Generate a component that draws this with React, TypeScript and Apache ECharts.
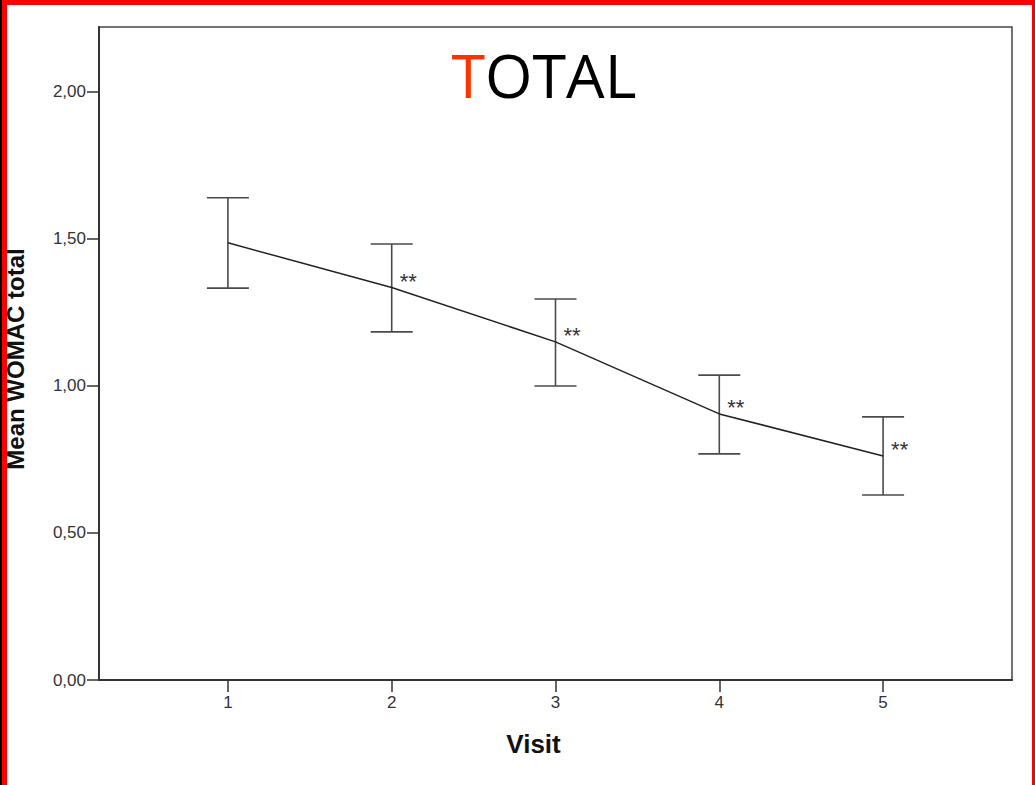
import React, { useEffect, useRef } from "react";
import * as echarts from "echarts";

const visits = [1, 2, 3, 4, 5];
const means = [1.487, 1.335, 1.15, 0.905, 0.762];
const upper = [1.64, 1.483, 1.296, 1.037, 0.895];
const lower = [1.333, 1.184, 1.0, 0.769, 0.629];
const sigMarks = ["", "**", "**", "**", "**"];
const yTicks = [0, 0.5, 1, 1.5, 2];

export default function App() {
  const ref = useRef<HTMLDivElement>(null);
  useEffect(() => {
    if (!ref.current) return;
    const chart = echarts.init(ref.current, null, { renderer: "svg" });
    const font = "'Liberation Sans', Arial, sans-serif";
    chart.setOption({
      animation: false,
      backgroundColor: "#ffffff",
      grid: {
        left: 99,
        top: 27,
        right: 23,
        bottom: 105,
        outerBoundsMode: "none",
        containLabel: false,
        show: true,
        borderColor: "#444",
        borderWidth: 1.5,
        backgroundColor: "transparent",
      },
      xAxis: {
        type: "value",
        min: 0.213,
        max: 5.787,
        name: "Visit",
        nameLocation: "middle",
        nameGap: 51,
        nameTextStyle: {
          fontFamily: font,
          fontWeight: "bold",
          fontSize: 26,
          color: "#111",
          padding: [0, 44, 0, 0],
        },
        axisLine: { show: true, lineStyle: { color: "#333", width: 2 } },
        axisTick: { show: true, length: 12, customValues: visits, lineStyle: { color: "#333", width: 1.5 } },
        axisLabel: {
          customValues: visits,
          margin: 14,
          fontFamily: font,
          fontSize: 17,
          color: "#333",
          formatter: (v: number) => String(v),
        },
        splitLine: { show: false },
      },
      yAxis: {
        type: "value",
        min: 0,
        max: 2.221,
        name: "Mean WOMAC total",
        nameLocation: "middle",
        nameGap: 72,
        nameTextStyle: {
          fontFamily: font,
          fontWeight: "bold",
          fontSize: 24,
          color: "#111",
          padding: [0, 11, 0, 0],
        },
        axisLine: { show: true, lineStyle: { color: "#333", width: 2 } },
        axisTick: { show: true, length: 12, customValues: yTicks, lineStyle: { color: "#333", width: 1.5 } },
        axisLabel: {
          customValues: yTicks,
          margin: 13,
          fontFamily: font,
          fontSize: 17,
          color: "#333",
          formatter: (v: number) => v.toFixed(2).replace(".", ","),
        },
        splitLine: { show: false },
      },
      graphic: [
        { type: "rect", shape: { x: 0, y: 0, width: 1035, height: 5 }, style: { fill: "#ff0000" }, z: 100 },
        { type: "rect", shape: { x: 0, y: 0, width: 2, height: 785 }, style: { fill: "#000000" }, z: 100 },
        { type: "rect", shape: { x: 2, y: 0, width: 5, height: 785 }, style: { fill: "#ff0000" }, z: 100 },
        { type: "rect", shape: { x: 1032, y: 0, width: 3, height: 785 }, style: { fill: "#ff0000" }, z: 100 },
        {
          type: "text",
          x: 544,
          y: 74,
          style: {
            text: "{r|T}{b|OTAL}",
            align: "center",
            verticalAlign: "middle",
            rich: {
              r: { fontFamily: "'Open Sans', 'Noto Sans', sans-serif", fontSize: 61, fill: "#ff3300" },
              b: { fontFamily: "'Open Sans', 'Noto Sans', sans-serif", fontSize: 61, fill: "#000000" },
            },
          },
          z: 100,
        },
      ],
      series: [
        {
          type: "custom",
          data: visits.map((v, i) => [v, lower[i], upper[i], means[i]]),
          renderItem: (params: any, api: any) => {
            const x = api.value(0);
            const pLo = api.coord([x, api.value(1)]);
            const pHi = api.coord([x, api.value(2)]);
            const pM = api.coord([x, api.value(3)]);
            const half = 21;
            const st = { stroke: "#4a4a4a", lineWidth: 1.6 };
            const children: any[] = [
              { type: "line", shape: { x1: pLo[0], y1: pLo[1], x2: pHi[0], y2: pHi[1] }, style: st },
              { type: "line", shape: { x1: pHi[0] - half, y1: pHi[1], x2: pHi[0] + half, y2: pHi[1] }, style: st },
              { type: "line", shape: { x1: pLo[0] - half, y1: pLo[1], x2: pLo[0] + half, y2: pLo[1] }, style: st },
            ];
            const mark = sigMarks[params.dataIndex];
            if (mark) {
              children.push({
                type: "text",
                x: pM[0] + 8,
                y: pM[1] - 6,
                style: {
                  text: mark,
                  fontFamily: font,
                  fontSize: 22,
                  fill: "#333",
                  align: "left",
                  verticalAlign: "middle",
                },
              });
            }
            return { type: "group", children };
          },
          z: 2,
        },
        {
          type: "line",
          data: visits.map((v, i) => [v, means[i]]),
          symbol: "none",
          lineStyle: { color: "#222", width: 1.5 },
          z: 3,
        },
      ],
    });
    return () => chart.dispose();
  }, []);
  return (
    <div
      ref={ref}
      style={{ position: "fixed", left: 0, top: 0, width: 1035, height: 785, background: "#fff" }}
    />
  );
}
